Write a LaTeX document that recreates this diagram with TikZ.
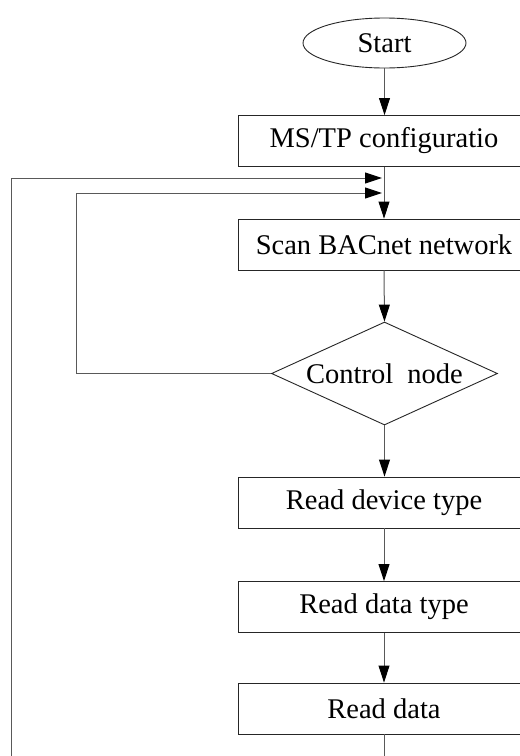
\documentclass[tikz,border=0pt]{standalone}
\usepackage{fontspec}
\setmainfont{Liberation Serif}
\usetikzlibrary{shapes.geometric,arrows.meta}
\begin{document}
\begin{tikzpicture}[x=1pt,y=-1pt,
  txt/.style={font=\fontsize{28.5}{31}\selectfont, text=black},
  box/.style={txt, draw=black!85, line width=0.9pt, minimum width=292pt, minimum height=51pt, inner sep=0pt},
  startnode/.style={txt, ellipse, draw=black!85, line width=0.9pt, minimum width=163pt, minimum height=50pt, inner sep=0pt},
  decision/.style={txt, diamond, aspect=2.2, draw=black!85, line width=0.9pt, minimum width=226pt, minimum height=103pt, inner sep=0pt},
  conn/.style={draw=black!65, line width=1pt, -{Triangle[length=17pt,width=11pt,color=black,fill=black]}},
  plain/.style={draw=black!65, line width=1pt}
]
\useasboundingbox (0,0) rectangle (520,756);
\clip (0,0) rectangle (520,756);
\fill[white] (0,0) rectangle (520,756);

\node[startnode] (start) at (384.5,43) {Start};
\node[box] (ms) at (384,141) {MS/TP configuratio};
\node[box] (scan) at (384,244.5) {Scan BACnet network};
\node[decision] (ctrl) at (384.5,373.5) {Control~~node};
\node[box] (dev) at (384,502.5) {Read device type};
\node[box] (dtype) at (384,607) {Read data type};
\node[box] (data) at (384,708.5) {Read data};

\coordinate (m1) at (382,178);
\coordinate (m2) at (382,193);
\coordinate (bot) at (384,775);

\draw[conn] (start.south) -- (start.south |- ms.north);
\draw[conn] (ms.south) -- (ms.south |- scan.north);
\draw[conn] (scan.south) -- (ctrl.north);
\draw[conn] (ctrl.south) -- (ctrl.south |- dev.north);
\draw[conn] (dev.south) -- (dev.south |- dtype.north);
\draw[conn] (dtype.south) -- (dtype.south |- data.north);

\draw[conn] (ctrl.west) -- (76,373.5) -- (76,193) -- (m2);
\draw[conn] (data.south) -- (bot) -- (11,775) -- (11,178) -- (m1);
\end{tikzpicture}
\end{document}
